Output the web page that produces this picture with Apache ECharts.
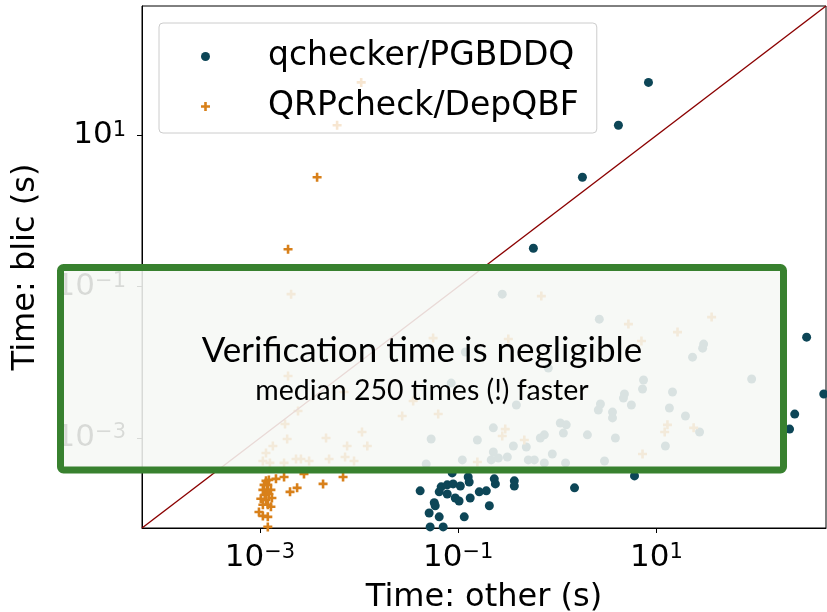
<!DOCTYPE html>
<html>
<head>
<meta charset="utf-8">
<script src="https://cdn.jsdelivr.net/npm/echarts@6/dist/echarts.min.js"></script>
<style>
  html, body { margin: 0; padding: 0; background: #fff; }
  #chart { width: 827px; height: 612px; }
</style>
</head>
<body>
<div id="chart"></div>
<script>
// log10 extent shared by both axes (the diagonal runs corner to corner)
var axisMinExp = -4.19;
var axisMaxExp = 2.71;
var tickValues = [0.001, 0.1, 10];

// [time other (s), time blic (s)]
var qcheckerPoints = [
    [8.30, 50.1], [4.13, 13.6], [1.79, 2.79], [0.573, 0.322], [327, 0.0215],
    [487, 0.00381], [248, 0.00207], [220, 0.00131], [6.0, 0.000315], [1.49, 0.000219],
    [0.278, 0.0796], [2.65, 0.0372], [29.9, 0.0174], [29.2, 0.0154], [23.1, 0.0117],
    [91.2, 0.00601], [0.118, 0.0137], [0.811, 0.00839], [0.0849, 0.00532], [7.40, 0.00583],
    [7.23, 0.00444], [14.5, 0.00405], [4.75, 0.00381], [4.64, 0.00337], [0.386, 0.00273],
    [2.72, 0.00281], [2.59, 0.00234], [3.60, 0.00220], [3.60, 0.00184], [5.58, 0.00273],
    [13.5, 0.00249], [19.6, 0.00195], [0.226, 0.00136], [1.07, 0.00158], [1.23, 0.00149],
    [1.15, 0.00116], [2.01, 0.00110], [3.85, 0.00100], [12.3, 0.000784], [27.2, 0.00120],
    [0.156, 0.000941], [0.360, 0.000784], [0.486, 0.000760], [0.673, 0.00100], [0.739, 0.00110],
    [0.226, 0.000653], [0.254, 0.000544], [0.313, 0.000561], [0.215, 0.000513], [0.509, 0.000513],
    [0.586, 0.000513], [0.889, 0.000615], [0.739, 0.000468], [1.21, 0.000468], [2.99, 0.000497],
    [0.110, 0.000513], [0.0533, 0.000970], [0.0475, 0.000454],
    [0.0869, 0.000345], [0.0413, 0.000200], [0.0673, 0.000226], [0.0643, 0.000194], [0.0775, 0.000240],
    [0.0889, 0.000247], [0.105, 0.000232], [0.126, 0.000305], [0.129, 0.000262], [0.0775, 0.000182],
    [0.0933, 0.000161], [0.102, 0.000147], [0.132, 0.000161], [0.163, 0.000194], [0.192, 0.000200],
    [0.231, 0.000288], [0.237, 0.000247], [0.368, 0.000271], [0.368, 0.000232], [0.0573, 0.000139],
    [0.0586, 0.000127], [0.0509, 0.000102], [0.0643, 0.0000906], [0.115, 0.0000906], [0.206, 0.000127],
    [0.0521, 0.0000668], [0.0705, 0.0000668]
];

var qrpcheckPoints = [
    [0.00377, 2.79], [0.00192, 0.313], [0.0105, 50.1], [0.00600, 13.6],
    [0.00278, 0.000335], [0.00175, 0.000305], [0.00145, 0.000288], [0.00237, 0.000219], [0.00201, 0.000194],
    [0.00433, 0.000247], [0.00689, 0.000305], [0.00115, 0.000271], [0.00123, 0.000279], [0.00110, 0.000240],
    [0.00120, 0.000240], [0.00107, 0.000206], [0.00118, 0.000206], [0.00129, 0.000206], [0.00112, 0.000177],
    [0.00123, 0.000182], [0.00102, 0.000157], [0.00115, 0.000152], [0.00132, 0.000161], [0.00107, 0.000131],
    [0.00120, 0.000131], [0.00129, 0.000123], [0.000977, 0.000105], [0.00107, 0.0000933], [0.00120, 0.0000906],
    [0.00120, 0.0000668],
    [0.00206, 0.0796], [0.0558, 0.0209], [0.320, 0.0203], [0.00192, 0.00658], [0.00705, 0.00405],
    [0.0351, 0.00308], [0.00242, 0.00227], [0.0272, 0.00195], [0.0628, 0.00207], [0.00179, 0.00153],
    [0.00464, 0.00100], [0.0107, 0.00120], [0.00188, 0.000970], [0.00135, 0.000784], [0.00757, 0.000784],
    [0.0121, 0.000784], [0.00115, 0.000634], [0.00107, 0.000497], [0.00126, 0.000468], [0.00175, 0.000468],
    [0.00231, 0.000528], [0.00259, 0.000528], [0.00313, 0.000497], [0.00498, 0.000528], [0.00722, 0.000561],
    [0.00889, 0.000497], [0.156, 0.000482], [0.298, 0.00131], [0.278, 0.00106], [0.464, 0.000941],
    [0.689, 0.0750], [5.21, 0.0320], [16.3, 0.0251], [36.0, 0.0396], [7.05, 0.0191],
    [12.9, 0.00149], [12.1, 0.00120], [23.7, 0.00136], [7.23, 0.000615]
];

var seriesNames = ['qchecker/PGBDDQ', 'QRPcheck/DepQBF'];
var boxTitle = 'Verification time is negligible';
var boxSubtitle = 'median 250 times (!) faster';

var axisMin = Math.pow(10, axisMinExp);
var axisMax = Math.pow(10, axisMaxExp);
var plusPath = 'path://M0,3.2H3.2V0H5.8V3.2H9V5.8H5.8V9H3.2V5.8H0Z';

var chart = echarts.init(document.getElementById('chart'), null, { renderer: 'canvas' });

function powLabel(value) {
    var e = Math.round(Math.log10(value));
    return '{b|10}{s|' + (e < 0 ? '\u2212' + (-e) : e) + '}';
}

var labelRich = {
    b: { fontFamily: 'DejaVu Sans', fontSize: 31, color: '#000' },
    s: { fontFamily: 'DejaVu Sans', fontSize: 21, color: '#000', verticalAlign: 'top' }
};

function makeAxis(name, isX) {
    return {
        type: 'log',
        logBase: 10,
        min: axisMin,
        max: axisMax,
        name: name,
        nameLocation: 'middle',
        nameGap: isX ? 54 : 100,
        nameMoveOverlap: false,
        nameTextStyle: { fontFamily: 'DejaVu Sans', fontSize: 32, color: '#000' },
        axisLine: { show: true, lineStyle: { color: '#000', width: 1 } },
        axisTick: { show: true, inside: false, length: 5, lineStyle: { color: '#000', width: 1 }, customValues: tickValues },
        minorTick: { show: false },
        splitLine: { show: false },
        axisLabel: {
            customValues: tickValues,
            margin: isX ? 14 : 16,
            formatter: powLabel,
            rich: labelRich
        }
    };
}

var option = {
    animation: false,
    backgroundColor: '#fff',
    grid: {
        left: 142, right: 1, top: 6, bottom: 84,
        outerBoundsMode: 'none',
        containLabel: false,
        show: true, borderColor: '#000', borderWidth: 1, backgroundColor: 'transparent'
    },
    xAxis: makeAxis('Time: other (s)', true),
    yAxis: makeAxis('Time: blic (s)', false),
    legend: {
        orient: 'vertical',
        left: 159,
        top: 23,
        z: 50,
        padding: [17, 18, 10, 42],
        itemGap: 17,
        itemWidth: 9,
        itemHeight: 9,
        backgroundColor: 'rgba(255,255,255,0.8)',
        borderColor: '#cccccc',
        borderWidth: 1,
        borderRadius: 4,
        formatter: function (name) {
            return '{t|' + name + '}';
        },
        textStyle: {
            rich: {
                t: {
                    fontFamily: 'DejaVu Sans',
                    fontSize: 33,
                    color: '#000',
                    padding: [0, 0, 0, 53]
                }
            }
        },
        data: [
            { name: seriesNames[0], icon: 'circle' },
            { name: seriesNames[1], icon: plusPath }
        ]
    },
    series: [{
        name: seriesNames[0],
        type: 'scatter',
        symbol: 'circle',
        symbolSize: 9,
        itemStyle: { color: '#0d4657', opacity: 1 },
        data: qcheckerPoints,
        z: 2
    }, {
        name: seriesNames[1],
        type: 'scatter',
        symbol: plusPath,
        symbolSize: 9,
        itemStyle: { color: '#d8801a', opacity: 1 },
        data: qrpcheckPoints,
        z: 2
    }, {
        name: 'diagonal',
        type: 'line',
        symbol: 'none',
        silent: true,
        lineStyle: { color: '#8b0000', width: 1.4 },
        data: [[axisMin, axisMin], [axisMax, axisMax]],
        z: 3
    }],
    graphic: [{
        type: 'rect',
        z: 100,
        shape: { x: 60.5, y: 267.5, width: 723, height: 202.5, r: 3 },
        style: { fill: 'rgba(246,248,245,0.88)', stroke: '#38812f', lineWidth: 7 }
    }, {
        type: 'text',
        z: 101,
        x: 422, y: 351,
        style: {
            text: boxTitle, fontFamily: 'Lato', fontSize: 35, fill: '#000',
            align: 'center', verticalAlign: 'middle'
        }
    }, {
        type: 'text',
        z: 101,
        x: 422, y: 391,
        style: {
            text: boxSubtitle, fontFamily: 'Lato', fontSize: 28.5, fill: '#000',
            align: 'center', verticalAlign: 'middle'
        }
    }]
};

chart.setOption(option);
</script>
</body>
</html>
